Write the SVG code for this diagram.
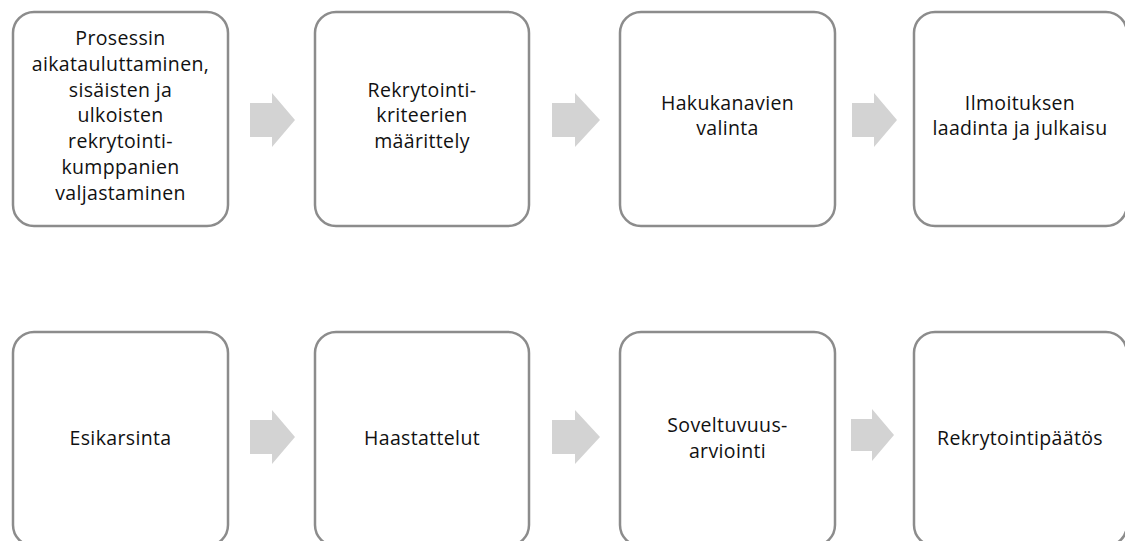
<svg xmlns="http://www.w3.org/2000/svg" width="1125" height="541" viewBox="0 0 1125 541">
<style>
.box{fill:#fff;stroke:#8c8c8c;stroke-width:2.5}
.arr{fill:#d3d3d3}
text{font-family:"Open Sans","Liberation Sans",sans-serif;font-size:19.5px;letter-spacing:0.35px;fill:#111;text-anchor:middle}
</style>
<rect width="1125" height="541" fill="#fff"/>
<g id="connectors">
<path class="arr" d="M250 103H272V93L295 120L272 147V137H250Z"/>
<path class="arr" d="M552 103H575V93L600 120L575 147V137H552Z"/>
<path class="arr" d="M852 103H874V93L897 120L874 147V137H852Z"/>
<path class="arr" d="M250 420H272V410L295 437L272 464V454H250Z"/>
<path class="arr" d="M552 420H575V410L600 437L575 464V454H552Z"/>
<path class="arr" d="M851 419H872V409L894 435L872 461V451H851Z"/>
</g>
<g id="n1"><rect class="box" x="13" y="12" width="215" height="214" rx="21"/>
<text x="120.5" y="45">Prosessin</text><text x="120.5" y="71">aikatauluttaminen,</text><text x="120.5" y="97">sisäisten ja</text><text x="120.5" y="122">ulkoisten</text><text x="120.5" y="148">rekrytointi-</text><text x="120.5" y="174">kumppanien</text><text x="120.5" y="200">valjastaminen</text></g>
<g id="n2"><rect class="box" x="315" y="12" width="214" height="214" rx="21"/>
<text x="422" y="97">Rekrytointi-</text><text x="422" y="122">kriteerien</text><text x="422" y="148">määrittely</text></g>
<g id="n3"><rect class="box" x="620" y="12" width="215" height="214" rx="21"/>
<text x="727.5" y="110">Hakukanavien</text><text x="727.5" y="135">valinta</text></g>
<g id="n4"><rect class="box" x="914" y="12" width="213" height="214" rx="21"/>
<text x="1020" y="110">Ilmoituksen</text><text x="1020" y="135">laadinta ja julkaisu</text></g>
<g id="n5"><rect class="box" x="13" y="332" width="215" height="214" rx="21"/>
<text x="120.5" y="445">Esikarsinta</text></g>
<g id="n6"><rect class="box" x="315" y="332" width="214" height="214" rx="21"/>
<text x="422" y="445">Haastattelut</text></g>
<g id="n7"><rect class="box" x="620" y="332" width="215" height="214" rx="21"/>
<text x="727.5" y="432">Soveltuvuus-</text><text x="727.5" y="458">arviointi</text></g>
<g id="n8"><rect class="box" x="914" y="332" width="213" height="214" rx="21"/>
<text x="1020" y="445">Rekrytointipäätös</text></g>
</svg>
